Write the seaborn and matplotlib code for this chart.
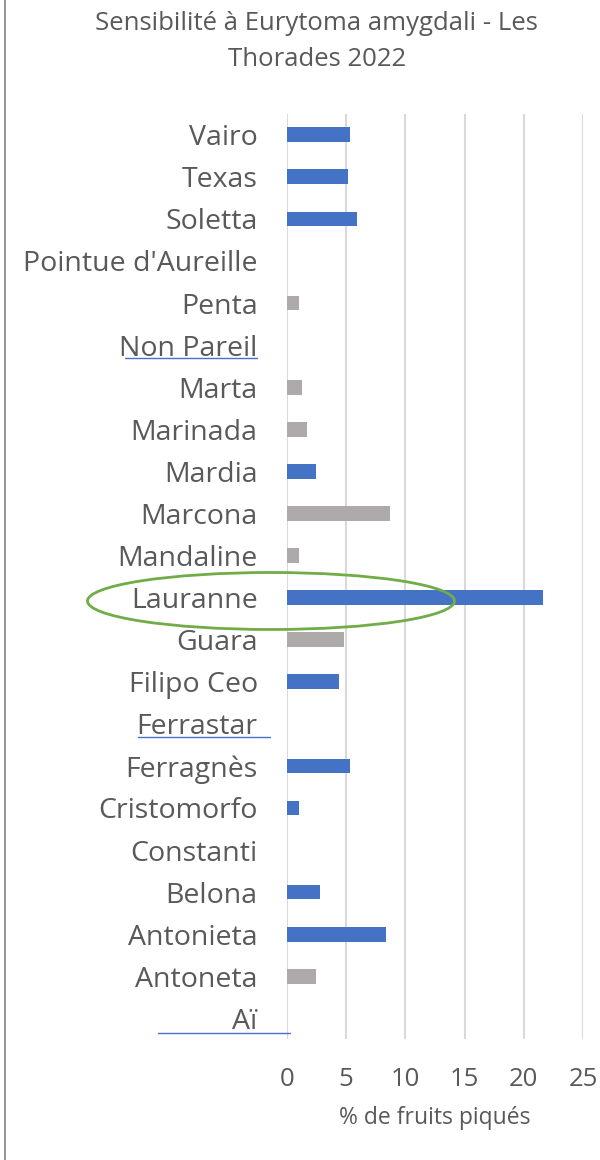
import pandas as pd
import matplotlib.pyplot as plt
import seaborn as sns
from matplotlib.lines import Line2D
from matplotlib.patches import Ellipse

varietes = ['Vairo', 'Texas', 'Soletta', "Pointue d'Aureille", 'Penta', 'Non Pareil',
            'Marta', 'Marinada', 'Mardia', 'Marcona', 'Mandaline', 'Lauranne', 'Guara',
            'Filipo Ceo', 'Ferrastar', 'Ferragnès', 'Cristomorfo', 'Constanti', 'Belona',
            'Antonieta', 'Antoneta', 'Aï']
piques = [5.3, 5.15, 5.9, 0, 1.0, 0, 1.27, 1.7, 2.5, 8.7, 1.0, 21.6, 4.8,
          4.4, 0, 5.3, 1.0, 0, 2.8, 8.4, 2.5, 0]
groupe = ['b', 'b', 'b', 'g', 'g', 'g', 'g', 'g', 'b', 'g', 'g', 'b', 'g',
          'b', 'b', 'b', 'b', 'b', 'b', 'b', 'g', 'b']

df = pd.DataFrame({'variete': varietes, 'piques': piques, 'groupe': groupe})

sns.set_style('white')
plt.rcParams['font.family'] = ['Open Sans', 'DejaVu Sans']

fig = plt.figure(figsize=(6, 11.6), dpi=100)
ax = fig.add_axes([0.478, 0.104, 0.494, 0.798])

sns.barplot(data=df, y='variete', x='piques', hue='groupe', orient='h',
            palette={'b': '#4472C4', 'g': '#AEAAAA'}, dodge=False, saturation=1,
            width=0.35, linewidth=0, legend=False, ax=ax)

ax.set_xlim(0, 25)
ax.set_xticks([0, 5, 10, 15, 20, 25])
ax.grid(axis='x', color='#D9D9D9', linewidth=1.5)
ax.set_axisbelow(True)
for s in ax.spines.values():
    s.set_visible(False)
ax.tick_params(axis='y', length=0, pad=21, labelsize=20.5, labelcolor='#595959')
ax.tick_params(axis='x', length=0, pad=20, labelsize=18.5, labelcolor='#595959')
ax.set_ylabel('')
ax.set_xlabel('% de fruits piqués', fontsize=16.5, color='#595959', labelpad=10)

fig.text(0.528, 1 - 23 / 1160, 'Sensibilité à Eurytoma amygdali - Les',
         ha='center', va='center', fontsize=18.5, color='#595959')
fig.text(0.528, 1 - 59 / 1160, 'Thorades 2022',
         ha='center', va='center', fontsize=18.5, color='#595959')

# cadre gauche
fig.add_artist(Line2D([0.008, 0.008], [0, 1], color='#808080', linewidth=1.2))

# soulignements bleus
def px_line(x0, x1, y):
    fig.add_artist(Line2D([x0 / 600, x1 / 600], [1 - y / 1160, 1 - y / 1160],
                          color='#4472C4', linewidth=1))

px_line(125, 257, 358)
px_line(138, 270, 737)
px_line(158, 290, 1033)

# ellipse verte autour de Lauranne
fig.add_artist(Ellipse((271 / 600, 1 - 601 / 1160), 367 / 600, 57 / 1160,
                       transform=fig.transFigure, fill=False,
                       edgecolor='#70AD47', linewidth=2))

fig.savefig('out.png', dpi=100)
